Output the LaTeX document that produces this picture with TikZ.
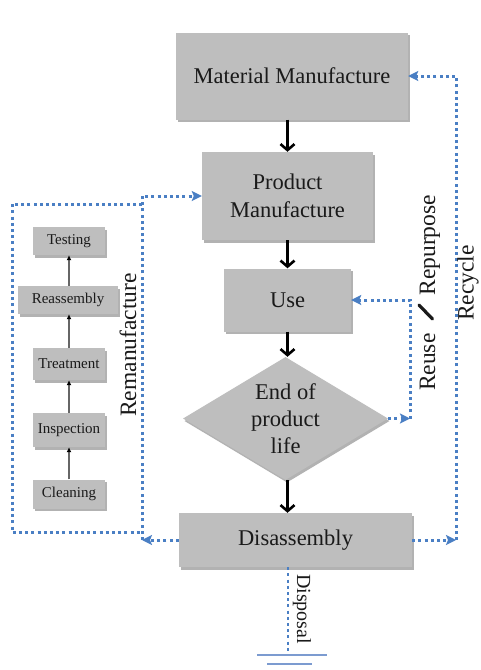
\documentclass[tikz,border=0pt]{standalone}
\usepackage{fontspec}
\setmainfont{Liberation Serif}
\usetikzlibrary{arrows.meta,shapes.geometric,shadows}
\definecolor{boxgray}{HTML}{BEBEBE}
\definecolor{dotblue}{HTML}{4A7FC4}
\definecolor{gndblue}{HTML}{7C9BD0}
\definecolor{txt}{HTML}{1A1A1A}
\tikzset{
  shd/.style={drop shadow={shadow xshift=1.5pt,shadow yshift=-2.5pt,fill=black!55,opacity=0.55}},
  bigbox/.style={rectangle,fill=boxgray,shd,inner sep=2pt,align=center,text=txt,
    font=\fontsize{22.5}{28}\selectfont},
  smallbox/.style={rectangle,fill=boxgray,shd,inner sep=2pt,text=txt,
    font=\fontsize{15}{18}\selectfont},
  flow/.style={line width=2.6pt,-{Straight Barb[length=6pt,width=14pt,line width=2.6pt]}},
  stepline/.style={line width=1.1pt,draw=black!60,-{Latex[length=5pt,width=5pt,black]}},
  dots/.style={line width=3pt,dotblue,dash pattern=on 3pt off 3.2pt},
  dotarrow/.style={dots,-{Stealth[length=10pt,width=10pt,inset=2pt]}},
  lbl/.style={text=txt,font=\fontsize{23.5}{28}\selectfont,inner sep=0pt},
}
\begin{document}
\begin{tikzpicture}[x=1pt,y=-1pt]
\useasboundingbox[fill=white] (0,0) rectangle (480,670);
% main flow
\node[bigbox,minimum width=232pt,minimum height=87pt] (mm) at (292,76) {Material Manufacture};
\node[bigbox,minimum width=171pt,minimum height=88pt] (pm) at (287.5,196) {Product\\Manufacture};
\node[bigbox,minimum width=127pt,minimum height=63pt] (use) at (287.5,300) {Use};
\node[diamond,fill=boxgray,shd,minimum width=205pt,minimum height=123pt,inner sep=0pt] (eol) at (285.5,418.5) {};
\node[align=center,text=txt,font=\fontsize{22.5}{27}\selectfont] (eoltxt) at (eol.center) {End of\\product\\life};
\node[bigbox,minimum width=233pt,minimum height=54pt] (dis) at (295.5,540) {Disassembly};
\draw[flow] (mm.south -| use.center) -- (pm.north -| use.center);
\draw[flow] (pm.south -| use.center) -- (use.north);
\draw[flow] (use.south) -- (eol.north -| use.center);
\draw[flow] (eol.south -| use.center) -- (dis.north -| use.center);
% remanufacture steps
\node[smallbox,minimum width=72pt,minimum height=28pt] (test) at (69,241) {Testing};
\node[smallbox,minimum width=100pt,minimum height=28pt] (reas) at (68,300) {Reassembly};
\node[smallbox,minimum width=72pt,minimum height=32pt] (treat) at (69,364) {Treatment};
\node[smallbox,minimum width=72pt,minimum height=34pt] (insp) at (69,430) {Inspection};
\node[smallbox,minimum width=72pt,minimum height=29pt] (clean) at (69,494) {Cleaning};
\draw[stepline] (clean.north) -- (insp.south);
\draw[stepline] (insp.north) -- (treat.south);
\draw[stepline] (treat.north) -- (reas.south -| treat.north);
\draw[stepline] (reas.north -| test.south) -- (test.south);
% remanufacture loop
\coordinate (rm) at (142,540);
\coordinate (rmTR) at (142,204);
\coordinate (rmTL) at (12,204);
\coordinate (rmBL) at (12,532);
\coordinate (rmBR) at (142,532);
\draw[dots] (rmTR) -- (rmTL) -- (rmBL) -- (rmBR);
\draw[dotarrow] (dis.west) -- (rm);
\draw[dotarrow] (rm) |- (pm.west);
\node[lbl,rotate=90] (remlbl) at (128,345) {Remanufacture};
% reuse loop
\coordinate (rr) at (410,418.5);
\draw[dotarrow] (eol.east) -- (rr);
\draw[dotarrow] (rr) |- (use.east);
\node[lbl,rotate=90] (reuselbl) at (430,293) {Reuse\hspace{38pt}Repurpose};
\coordinate (slA) at (419,305);
\coordinate (slB) at (432.5,319);
\draw[line width=3.2pt,txt,line cap=round] (slA) -- (slB);
% recycle loop
\coordinate (rc) at (456,540);
\draw[dotarrow] (dis.east) -- (rc);
\draw[dotarrow] (rc) |- (mm.east);
\node[lbl,rotate=90] (reclbl) at (468,283) {Recycle};
% disposal
\coordinate (gnd) at (288,655);
\coordinate (g1a) at (257,655);
\coordinate (g1b) at (327,655);
\coordinate (g2a) at (267,664);
\coordinate (g2b) at (312,664);
\draw[dots,line width=2.4pt] (dis.south -| gnd) -- (gnd);
\draw[gndblue,line width=1.3pt] (g1a) -- (g1b);
\draw[gndblue,line width=1.3pt] (g2a) -- (g2b);
\node[text=txt,font=\fontsize{20}{24}\selectfont,inner sep=0pt,rotate=-90] (displbl) at (302,609) {Disposal};
\end{tikzpicture}
\end{document}
